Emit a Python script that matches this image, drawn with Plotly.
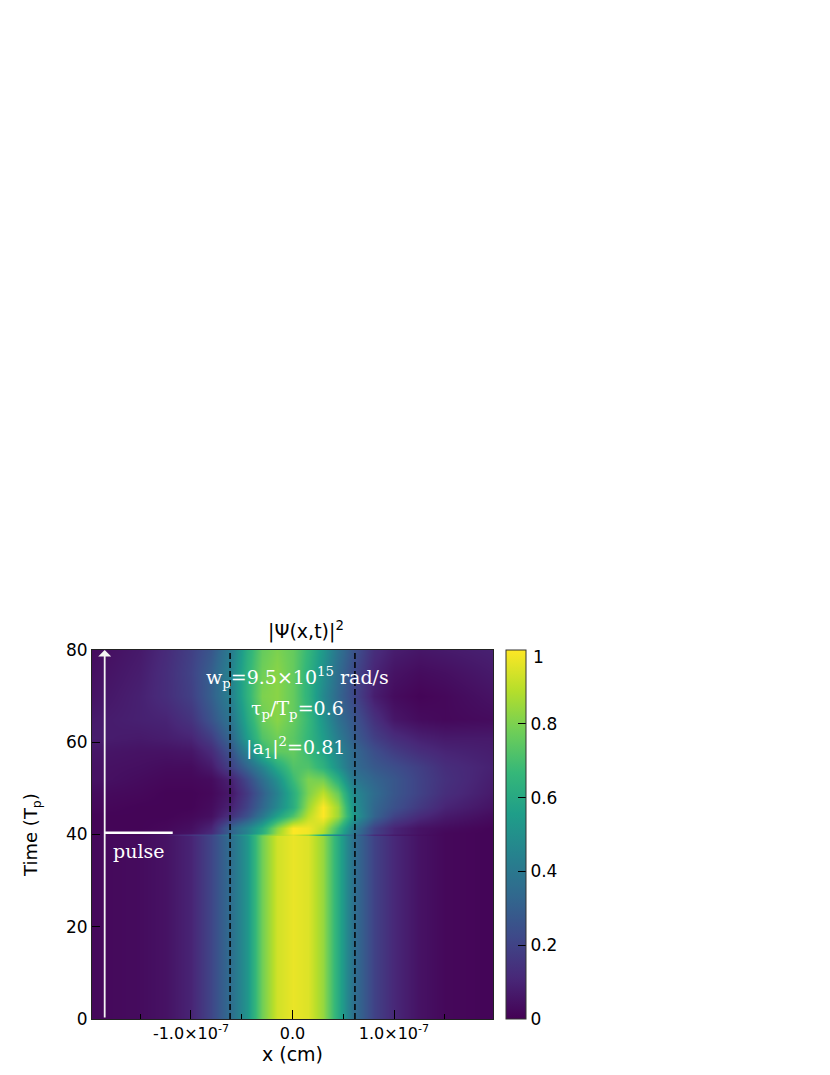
import plotly.graph_objects as go

# x positions of the sampled columns, in units of 1e-7 cm
x_e7 = [-1.975,-1.5,-1.25,-1.0,-0.8,-0.6,-0.45,-0.3,-0.15,0,0.15,0.3,0.45,0.6,0.8,1.0,1.25,1.5,1.975]
time_tp = [0,20,39.6,40,40.4,41.4,44,46,49,52,54.6,58,61,65,70,75,80]
row_t00 = [.02,.03,.05,.10,.21,.37,.52,.78,.93,.97,.95,.84,.61,.37,.20,.11,.05,.02,.01]
row_t20 = [.02,.03,.05,.10,.21,.37,.52,.78,.93,.97,.95,.84,.61,.37,.20,.11,.05,.02,.01]
row_t39 = [.02,.03,.05,.10,.21,.37,.52,.78,.93,.97,.95,.84,.61,.37,.20,.11,.05,.02,.01]
row_t400 = [.02,.02,.06,.15,.22,.42,.55,.75,.88,.95,.85,.55,.42,.35,.12,.07,.04,.02,.01]
row_t404 = [.02,.02,.03,.05,.12,.32,.45,.62,.85,1.0,.98,.88,.65,.40,.20,.10,.05,.02,.01]
row_t41 = [.01,.01,.02,.04,.10,.33,.45,.60,.82,1.0,.98,.90,.68,.42,.20,.10,.05,.03,.01]
row_t44 = [.01,.01,.01,.02,.04,.15,.25,.40,.57,.72,.90,1.0,.85,.55,.32,.20,.12,.07,.03]
row_t46 = [.02,.01,.01,.01,.03,.10,.20,.33,.47,.62,.85,1.0,.85,.52,.33,.25,.17,.10,.05]
row_t49 = [.03,.02,.01,.01,.02,.07,.17,.30,.44,.62,.80,.90,.76,.48,.35,.27,.20,.13,.07]
row_t52 = [.05,.03,.02,.02,.03,.10,.22,.36,.50,.68,.80,.78,.62,.40,.32,.27,.20,.14,.08]
row_t54 = [.05,.04,.03,.03,.07,.20,.32,.45,.60,.72,.72,.64,.50,.35,.28,.24,.19,.13,.09]
row_t58 = [.06,.05,.05,.06,.12,.27,.45,.65,.75,.76,.68,.58,.46,.34,.24,.18,.13,.10,.08]
row_t61 = [.08,.07,.08,.10,.18,.34,.55,.72,.78,.74,.66,.55,.42,.30,.19,.13,.09,.07,.07]
row_t65 = [.07,.09,.10,.15,.26,.40,.60,.77,.82,.76,.67,.52,.37,.27,.14,.06,.03,.02,.03]
row_t70 = [.05,.09,.13,.19,.30,.45,.64,.80,.82,.76,.64,.47,.33,.22,.08,.03,.01,.02,.05]
row_t75 = [.04,.08,.13,.20,.30,.46,.64,.78,.82,.76,.64,.50,.35,.23,.10,.05,.03,.04,.07]
row_t80 = [.03,.07,.12,.19,.27,.43,.62,.76,.80,.76,.66,.53,.38,.26,.13,.08,.06,.07,.09]
z_rows = [row_t00,row_t20,row_t39,row_t400,row_t404,row_t41,row_t44,row_t46,row_t49,row_t52,
          row_t54,row_t58,row_t61,row_t65,row_t70,row_t75,row_t80]

x_major = [-1.0,0.0,1.0]
x_major_labels = ["-1.0×10<sup>-7</sup>","0.0","1.0×10<sup>-7</sup>"]
x_minor = [-1.5,-0.5,0.5,1.5]
y_ticks = [0,20,40,60,80]
cbar_ticks = [0,0.2,0.4,0.6,0.8,1.0]
cbar_labels = ["0","0.2","0.4","0.6","0.8",""]
well_edges = [-0.615,0.615]
pulse_x = [-1.85,-1.18]
pulse_t = 40.4
arrow_x = -1.85

E = 1e-7
x_cm = [v*E for v in x_e7]
SANS = "DejaVu Sans"
SERIF = "DejaVu Serif"

fig = go.Figure()
fig.add_trace(go.Heatmap(x=x_cm,y=time_tp,z=z_rows,colorscale="Viridis",zmin=0,zmax=1,zsmooth="best",
    colorbar=dict(x=(506-92)/401,xanchor="left",xpad=0,ypad=0,y=0,yanchor="bottom",len=1,lenmode="fraction",
        thickness=20,thicknessmode="pixels",outlinecolor="#333",outlinewidth=1,
        ticks="inside",ticklen=8,tickcolor="#000",tickvals=cbar_ticks,ticktext=cbar_labels,
        tickfont=dict(family=SANS,size=17,color="#000"))))
for e in well_edges:
    fig.add_trace(go.Scatter(x=[e*E,e*E],y=[0,80],mode="lines",showlegend=False,
        line=dict(color="#000",width=1.5,dash="6px,3px")))
fig.add_trace(go.Scatter(x=[v*E for v in pulse_x],y=[pulse_t,pulse_t],mode="lines",showlegend=False,
    line=dict(color="#fff",width=2.5)))
fig.add_annotation(x=arrow_x*E,y=80,ax=arrow_x*E,ay=0,axref="x",ayref="y",xref="x",yref="y",text="",
    showarrow=True,arrowhead=1,arrowsize=1.2,arrowwidth=1.8,arrowcolor="#f4f4f4")

def note(x,y,text,size=19):
    fig.add_annotation(x=x*E,y=y,xref="x",yref="y",text=text,showarrow=False,
        font=dict(family=SERIF,size=size,color="#fff"))
note(0.05,74,"w<sub>p</sub>=9.5×10<sup>15</sup> rad/s")
note(0.05,67,"τ<sub>p</sub>/T<sub>p</sub>=0.6")
note(0.03,58.8,"|a<sub>1</sub>|<sup>2</sup>=0.81")
note(-1.52,36.4,"pulse")
fig.add_annotation(xref="paper",yref="paper",x=(531-92)/401,y=1-7/369,xanchor="left",yanchor="middle",
    text="1",showarrow=False,font=dict(family=SANS,size=17,color="#000"))

fig.update_layout(width=830,height=1075,autosize=False,paper_bgcolor="#fff",plot_bgcolor="#fff",showlegend=False,
    margin=dict(l=84,r=345,t=642,b=64,pad=0),
    title=dict(text="|Ψ(x,t)|<sup>2</sup>",x=298/830,xanchor="center",y=1-623/1075,yanchor="middle",
        font=dict(family=SANS,size=19,color="#000")),
    xaxis=dict(range=[-1.975*E,1.975*E],tickmode="array",tickvals=[v*E for v in x_major],ticktext=x_major_labels,
        ticks="inside",ticklen=9,tickwidth=1,tickcolor="#000",showgrid=False,zeroline=False,
        minor=dict(tickmode="array",tickvals=[v*E for v in x_minor],ticks="inside",ticklen=5,tickwidth=1,tickcolor="#000",showgrid=False),
        showline=True,linecolor="#222",linewidth=1,mirror=True,
        tickfont=dict(family=SANS,size=16,color="#000"),
        title=dict(text="x (cm)",standoff=2,font=dict(family=SANS,size=19,color="#000"))),
    yaxis=dict(range=[0,80],tickmode="array",tickvals=y_ticks,
        ticks="inside",ticklen=8,tickwidth=1,tickcolor="#000",showgrid=False,zeroline=False,
        showline=True,linecolor="#222",linewidth=1,mirror=True,
        tickfont=dict(family=SANS,size=17,color="#000"),
        title=dict(text="Time (T<sub>p</sub>)",standoff=23,font=dict(family=SANS,size=18,color="#000"))))
fig.write_html("out.html")
